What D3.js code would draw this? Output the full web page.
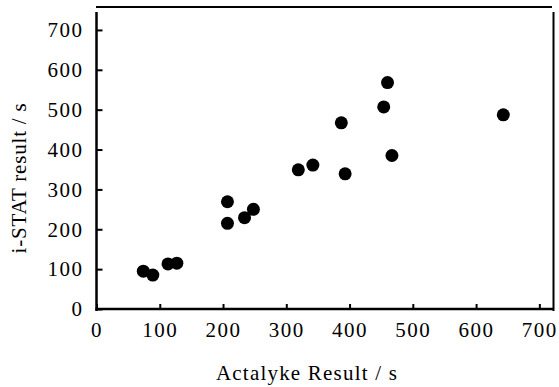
<!DOCTYPE html>
<html>
<head>
<meta charset="utf-8">
<script src="https://cdn.jsdelivr.net/npm/d3@7"></script>
<style>
  html, body { margin: 0; padding: 0; background: #fff; }
  svg { display: block; }
</style>
</head>
<body>
<div id="chart"></div>
<script>
// Data
const actalyke = [74, 89, 113, 127, 207, 207, 234, 248, 319, 342, 387, 393, 454, 460, 467, 643];
const istat    = [95, 85, 113, 115, 269, 215, 229, 250, 349, 361, 467, 339, 507, 568, 385, 487];
const xTicks = [0, 100, 200, 300, 400, 500, 600, 700];
const yTicks = [0, 100, 200, 300, 400, 500, 600, 700];
const xTitle = "Actalyke Result / s";
const yTitle = "i-STAT result / s";

const FONT = "'Liberation Serif', 'Times New Roman', Times, 'DejaVu Serif', serif";
const W = 559, H = 387;
const svg = d3.select("#chart").append("svg").attr("width", W).attr("height", H);

const x = d3.scaleLinear().domain([0, 720]).range([96.5, 552]);
const y = d3.scaleLinear().domain([0, 745]).range([309, 12]);

// frame
svg.append("line").attr("x1", 96).attr("x2", 552).attr("y1", 7).attr("y2", 7)
  .attr("stroke", "#000").attr("stroke-width", 2);
svg.append("line").attr("x1", 553.5).attr("x2", 553.5).attr("y1", 12).attr("y2", 311)
  .attr("stroke", "#000").attr("stroke-width", 2);

// x axis
const xAxis = svg.append("g").attr("transform", `translate(0,${y(0)})`)
  .call(d3.axisBottom(x).tickValues(xTicks).tickSize(-5).tickPadding(13).tickFormat(d3.format("d")));
// y axis
const yAxis = svg.append("g").attr("transform", `translate(${x(0)},0)`)
  .call(d3.axisLeft(y).tickValues(yTicks).tickSize(-6).tickPadding(13).tickFormat(d3.format("d")));

[xAxis, yAxis].forEach(g => {
  g.attr("font-family", null).attr("font-size", null);
  g.select(".domain").attr("stroke", "#000").attr("stroke-width", 2.5);
  g.selectAll(".tick line").attr("stroke", "#000").attr("stroke-width", 2);
  g.selectAll(".tick text").style("font-size", "21px").style("font-family", FONT)
    .style("letter-spacing", "1.5px").attr("fill", "#000");
});
yAxis.select(".domain").attr("d", `M0,${y(0)+2}V${y(745)}`);
xAxis.select(".domain").attr("d", `M${x(0)-1},0H${x(720)+2}`);

// points
svg.append("g").selectAll("circle")
  .data(actalyke.map((v, i) => [v, istat[i]]))
  .join("circle")
  .attr("cx", d => x(d[0]))
  .attr("cy", d => y(d[1]))
  .attr("r", 6.5)
  .attr("fill", "#000");

// titles
svg.append("text").attr("x", 307).attr("y", 380).attr("text-anchor", "middle")
  .style("font-size", "21px").style("font-family", FONT).style("letter-spacing", "1.2px").text(xTitle);
svg.append("text").attr("transform", "translate(26,178) rotate(-90)").attr("text-anchor", "middle")
  .style("font-size", "21px").style("font-family", FONT).style("letter-spacing", "0.8px").text(yTitle);
</script>
</body>
</html>
